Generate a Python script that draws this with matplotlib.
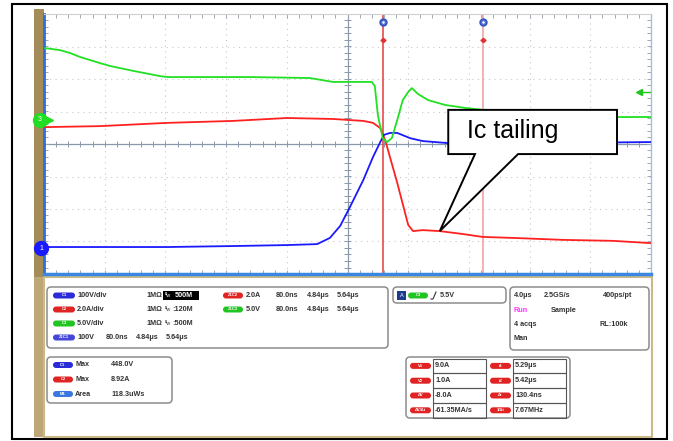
import numpy as np
import matplotlib.pyplot as plt
from matplotlib.patches import FancyBboxPatch, Rectangle, Polygon

plt.rcParams['font.family'] = ['Liberation Sans', 'DejaVu Sans']

# traces in screen divisions (x: 0..10 div, y: -4..4 div)
green_t = [0.02, 0.26, 0.43, 0.59, 0.92, 1.09, 1.47, 1.91, 2.03, 3.39, 4.38, 4.76, 5.40, 5.45,
           5.50, 5.58, 5.65, 5.73, 5.82, 5.91, 6.00, 6.06, 6.16, 6.33, 6.61, 6.94, 7.23, 7.84,
           8.50, 9.16, 10.0]
green_v = [2.95, 2.89, 2.80, 2.68, 2.49, 2.40, 2.25, 2.09, 2.06, 2.06, 2.03, 1.91, 1.91, 1.78,
           0.89, 0.18, 0.06, 0.18, 0.74, 1.35, 1.60, 1.72, 1.54, 1.35, 1.20, 1.11, 1.05, 0.92,
           0.86, 0.83, 0.83]
red_t = [0.02, 0.92, 2.03, 3.11, 4.00, 4.76, 5.26, 5.42, 5.54, 5.58, 5.63, 5.82, 6.00, 6.08,
         6.24, 6.52, 6.90, 7.23, 7.73, 8.55, 9.37, 10.0]
red_v = [0.52, 0.55, 0.65, 0.71, 0.80, 0.77, 0.71, 0.65, 0.49, 0.31, 0.06, -1.20, -2.49, -2.68,
         -2.65, -2.68, -2.77, -2.86, -2.89, -2.95, -2.98, -3.05]
blue_t = [0.02, 2.03, 3.11, 4.00, 4.50, 4.71, 4.88, 5.04, 5.26, 5.42, 5.54, 5.60, 5.70, 5.82,
          6.03, 6.24, 6.64, 8.34, 10.0]
blue_v = [-3.17, -3.17, -3.14, -3.11, -3.08, -2.89, -2.52, -1.94, -1.11, -0.40, 0.06, 0.28,
          0.34, 0.34, 0.18, 0.09, 0.03, 0.03, 0.06]

cursors = [5.58, 7.23]
callout_text = 'Ic tailing'
tail_point = (6.52, -2.68)

# readout panel texts
ch_rows = [('C1', '#2b2bd8', '100V/div', '1MΩ', '500M'),
           ('C2', '#e02424', '2.0A/div', '1MΩ', '120M'),
           ('C3', '#22c422', '5.0V/div', '1MΩ', '500M')]
zoom_rows = [('Z1C2', '#e02424', '2.0A', '80.0ns', '4.84μs', '5.64μs'),
             ('Z1C3', '#22c422', '5.0V', '80.0ns', '4.84μs', '5.64μs')]
z1c1 = ('Z1C1', '#4646d8', '100V', '80.0ns', '4.84μs', '5.64μs')
meas_rows = [('C1', '#2b2bd8', 'Max', '448.0V'),
             ('C2', '#e02424', 'Max', '8.92A'),
             ('M1', '#3a78e0', 'Area', '118.3uWs')]
cur_left = [('V1', '9.0A'), ('V2', '1.0A'), ('ΔV', '-8.0A'), ('ΔV/Δt', '-61.35MA/s')]
cur_right = [('t1', '5.29μs'), ('t2', '5.42μs'), ('Δt', '130.4ns'), ('1/Δt', '7.67MHz')]

fig = plt.figure(figsize=(6.73, 4.41), dpi=100)
bg = fig.add_axes([0, 0, 1, 1])
bg.set_xlim(0, 673)
bg.set_ylim(441, 0)
bg.axis('off')

bg.add_patch(Rectangle((12, 4), 655, 435, fill=False, ec='black', lw=1.5))
bg.add_patch(Rectangle((34, 9), 10, 268, fc='#a48c58', ec='none'))
bg.add_patch(Rectangle((34, 277), 10, 160, fc='#bda777', ec='none'))
bg.add_patch(Rectangle((44, 277), 608, 160, fill=False, ec='#cbb98a', lw=1.5))


def pill(x0, x1, yc, color, label):
    bg.add_patch(FancyBboxPatch((x0, yc - 3), x1 - x0, 6,
                                boxstyle='round,pad=0,rounding_size=3',
                                fc=color, ec='none'))
    bg.text((x0 + x1) / 2, yc, label, fontsize=3, color='white',
            ha='center', va='center', fontweight='bold')


def panel(x0, y0, x1, y1):
    bg.add_patch(FancyBboxPatch((x0, y0), x1 - x0, y1 - y0,
                                boxstyle='round,pad=0,rounding_size=4',
                                fc='white', ec='#8c8c8c', lw=1.1))


txt = dict(fontsize=5.2, color='#333333', va='center', fontweight='bold')

# channel box
panel(47, 287, 388, 348)
for i, (lab, col, scale, imp, bw) in enumerate(ch_rows):
    y = 295.5 + i * 14
    pill(53, 75, y, col, lab)
    bg.text(77, y, scale, **txt)
    bg.text(146, y, imp, **txt)
    if i == 0:
        bg.add_patch(Rectangle((163, y - 4.5), 36, 9, fc='black', ec='none'))
        bg.text(165, y, 'ᴮw', fontsize=4, color='white', va='center')
        bg.text(175, y, bw, fontsize=5.2, color='white', va='center', fontweight='bold')
    else:
        bg.text(165, y, 'ᴮw', fontsize=4, color='#333333', va='center')
        bg.text(172, y, ':' + bw, **txt)
for i, (lab, col, v, a, b, c) in enumerate(zoom_rows):
    y = 295.5 + i * 14
    pill(223, 243, y, col, lab)
    bg.text(246, y, v, **txt)
    bg.text(276, y, a, **txt)
    bg.text(307, y, b, **txt)
    bg.text(337, y, c, **txt)
pill(53, 75, 337.5, z1c1[1], z1c1[0])
bg.text(77, 337.5, z1c1[2], **txt)
bg.text(106, 337.5, z1c1[3], **txt)
bg.text(136, 337.5, z1c1[4], **txt)
bg.text(166, 337.5, z1c1[5], **txt)

# trigger box
panel(393, 287, 506, 303)
bg.add_patch(Rectangle((397, 291), 9, 9, fc='#1c3c8c', ec='none'))
bg.text(401.5, 295.5, 'A', fontsize=4, color='white', ha='center', va='center')
pill(408, 428, 295.5, '#22c422', 'C3')
bg.plot([431, 433, 436], [299, 299, 292], color='#333333', lw=0.8)
bg.text(440, 295.5, '5.5V', **txt)

# timebase box
panel(510, 287, 649, 350)
bg.text(514, 295.5, '4.0μs', **txt)
bg.text(544, 295.5, '2.5GS/s', **txt)
bg.text(603, 295.5, '400ps/pt', **txt)
bg.text(514, 310, 'Run', fontsize=5.2, color='#ff30ff', va='center', fontweight='bold')
bg.text(551, 310, 'Sample', **txt)
bg.text(514, 324, '4 acqs', **txt)
bg.text(599, 324, 'RL:100k', **txt)
bg.text(514, 338, 'Man', **txt)

# measurement box
panel(47, 357, 172, 403)
for i, (lab, col, kind, val) in enumerate(meas_rows):
    y = 365 + i * 14.5
    pill(53, 73, y, col, lab)
    bg.text(75, y, kind, **txt)
    bg.text(111, y, val, **txt)

# cursor box
panel(406, 357, 570, 418)
for i in range(4):
    y0 = 358.5 + i * 14.8
    yc = y0 + 7.4
    bg.add_patch(Rectangle((433, y0), 53, 14.8, fill=False, ec='#555555', lw=0.8))
    bg.add_patch(Rectangle((513, y0), 53, 14.8, fill=False, ec='#555555', lw=0.8))
    pill(410, 431, yc, '#e02424', cur_left[i][0])
    pill(490, 511, yc, '#e02424', cur_right[i][0])
    bg.text(435, yc, cur_left[i][1], **txt)
    bg.text(515, yc, cur_right[i][1], **txt)

# scope screen
ax = fig.add_axes([44 / 673, (441 - 274) / 441, 607 / 673, 260 / 441])
ax.set_xlim(0, 10)
ax.set_ylim(-4, 4)
ax.set_xticks([])
ax.set_yticks([])
for i in range(1, 10):
    if i != 5:
        ax.axvline(i, color='#c8c8c8', lw=0.8, ls=(0, (1, 4)), zorder=1)
for j in range(-3, 4):
    if j != 0:
        ax.axhline(j, color='#c8c8c8', lw=0.8, ls=(0, (1, 4)), zorder=1)
ax.axhline(0, color='#8a98ac', lw=0.9, zorder=1)
ax.axvline(5, color='#8a98ac', lw=0.9, zorder=1)
minor_x = np.arange(0, 10.01, 0.2)
minor_y = np.arange(-4, 4.01, 0.2)
ax.vlines(minor_x, -0.08, 0.08, color='#8a98ac', lw=0.7, zorder=1)
ax.hlines(minor_y, 4.95, 5.05, color='#8a98ac', lw=0.7, zorder=1)
ax.vlines(minor_x, 3.88, 4, color='#a0a8b4', lw=0.7, zorder=1)
ax.vlines(minor_x, -4, -3.88, color='#a0a8b4', lw=0.7, zorder=1)
ax.hlines(minor_y, 0, 0.06, color='#a0a8b4', lw=0.7, zorder=1)
ax.hlines(minor_y, 9.94, 10, color='#a0a8b4', lw=0.7, zorder=1)
ax.spines['left'].set_color('#2f6fd6')
ax.spines['left'].set_linewidth(2)
ax.spines['bottom'].set_color('#3a86e0')
ax.spines['bottom'].set_linewidth(2.5)
ax.spines['top'].set_color('#d0d0d0')
ax.spines['top'].set_linewidth(0.8)
ax.spines['right'].set_color('#9cc0ea')
ax.spines['right'].set_linewidth(1)

ax.axvline(cursors[0], color='#e84a4a', lw=1.2, zorder=2)
ax.axvline(cursors[1], color='#f2a4a4', lw=1.2, zorder=2)
for c in cursors:
    ax.plot(c, 3.76, 'o', ms=5, mfc='#5070d0', mec='#3050c0', zorder=5)
    ax.plot(c, 3.76, 'o', ms=1.8, mfc='white', mec='none', zorder=6)
    ax.plot(c, 3.2, '_', ms=5, color='#e03030', mew=1, zorder=5)
    ax.plot(c, 3.2, 'o', ms=2.5, color='#e03030', zorder=5)

ax.plot(red_t, red_v, color='#ff2020', lw=1.3, zorder=3)
ax.plot(blue_t, blue_v, color='#1a1aff', lw=1.3, zorder=3)
ax.plot(green_t, green_v, color='#22e022', lw=1.3, zorder=4)

# channel markers and trigger level arrow
ax.plot(-0.07, 0.74, 'o', ms=10, color='#22dd22', clip_on=False, zorder=8)
ax.plot(0.1, 0.74, '>', ms=4, color='#22dd22', clip_on=False, zorder=8)
ax.text(-0.07, 0.74, '3', fontsize=5, color='white', ha='center', va='center', zorder=9)
ax.plot(-0.05, -3.2, 'o', ms=10, color='#1a1aff', clip_on=False, zorder=8)
ax.text(-0.05, -3.2, '1', fontsize=5, color='white', ha='center', va='center', zorder=9)
ax.plot([9.8, 10], [1.6, 1.6], color='#22c422', lw=1, zorder=4)
ax.plot(9.8, 1.6, '<', ms=4, color='#22c422', zorder=4)

# callout
bx0, bx1, by0, by1 = 6.66, 9.44, -0.31, 1.05
callout = Polygon([(bx0, by1), (bx1, by1), (bx1, by0), (7.81, by0), tail_point,
                   (7.10, by0), (bx0, by0)], closed=True, fc='white', ec='black',
                  lw=1.4, zorder=10)
ax.add_patch(callout)
ax.text(6.97, 0.40, callout_text, fontsize=18, color='black', va='center', zorder=11)

fig.savefig('out.png', dpi=100)
